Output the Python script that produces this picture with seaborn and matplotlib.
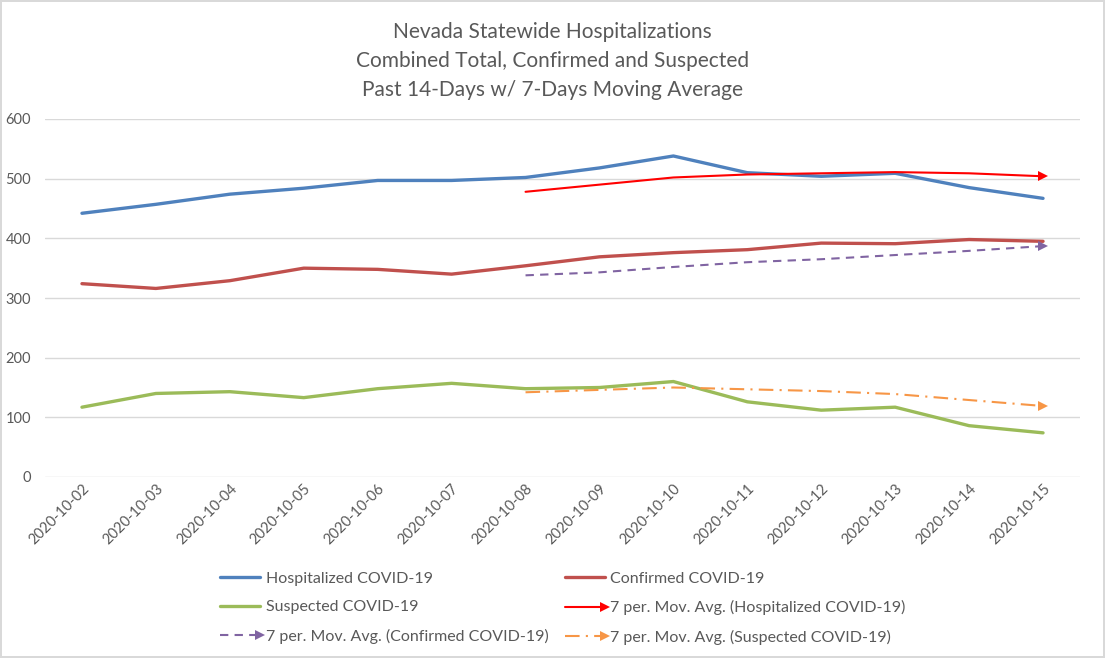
import pandas as pd
import matplotlib.pyplot as plt
import seaborn as sns
from matplotlib.legend_handler import HandlerLine2D

# Datos
fechas = ["2020-10-02", "2020-10-03", "2020-10-04", "2020-10-05", "2020-10-06",
          "2020-10-07", "2020-10-08", "2020-10-09", "2020-10-10", "2020-10-11",
          "2020-10-12", "2020-10-13", "2020-10-14", "2020-10-15"]
hospitalizados = [442, 457, 474, 484, 497, 497, 502, 518, 538, 510, 504, 509, 485, 467]
confirmados = [324, 316, 329, 350, 348, 340, 354, 369, 376, 381, 392, 391, 398, 395]
sospechosos = [117, 140, 143, 133, 148, 157, 148, 150, 160, 126, 112, 117, 86, 74]

fechas_ma = fechas[6:]
ma_hosp = [478, 490, 502, 507, 509, 511, 509, 504]
ma_conf = [338, 343, 352, 360, 365, 372, 379, 387]
ma_sosp = [142, 146, 150, 147, 144, 139, 129, 119]


class FlechaAlFinal(HandlerLine2D):
    # pone el marcador (flecha) al final de la linea en la leyenda
    def create_artists(self, legend, orig_handle, xdescent, ydescent, width,
                       height, fontsize, trans):
        artistas = super().create_artists(legend, orig_handle, xdescent, ydescent,
                                          width, height, fontsize, trans)
        linea = artistas[0]
        linea.set_markevery([len(linea.get_xdata()) - 1])
        return artistas


sns.set_style("white")
plt.rcParams['font.family'] = ['Lato', 'DejaVu Sans']

gris = "#595959"
fig = plt.figure(figsize=(11.05, 6.58), dpi=100, edgecolor="#d9d9d9", linewidth=1.5)
ax = fig.add_axes([45 / 1105, 1 - 477 / 658, 1035 / 1105, 358 / 658])

df = pd.DataFrame({"fecha": fechas, "hosp": hospitalizados,
                   "conf": confirmados, "sosp": sospechosos})
df_ma = pd.DataFrame({"fecha": fechas_ma, "hosp": ma_hosp,
                      "conf": ma_conf, "sosp": ma_sosp})

series = [
    (df, "hosp", "Hospitalized COVID-19", "#4F81BD", "-", 2.4, None),
    (df, "conf", "Confirmed COVID-19", "#C0504D", "-", 2.4, None),
    (df, "sosp", "Suspected COVID-19", "#9BBB59", "-", 2.4, None),
    (df_ma, "hosp", "7 per. Mov. Avg. (Hospitalized COVID-19)", "#FF0000", "-", 1.5, ">"),
    (df_ma, "conf", "7 per. Mov. Avg. (Confirmed COVID-19)", "#8064A2", (0, (4, 3)), 1.5, ">"),
    (df_ma, "sosp", "7 per. Mov. Avg. (Suspected COVID-19)", "#F79646", (0, (7, 3, 1, 3)), 1.5, ">"),
]

handles = {}
flechas = {}
for datos, col, nombre, color, estilo, ancho, marca in series:
    sns.lineplot(data=datos, x="fecha", y=col, ax=ax, color=color, linewidth=ancho,
                 linestyle=estilo, sort=False, label=nombre,
                 marker=marca, markevery=[len(datos) - 1] if marca else None,
                 markersize=7, markeredgewidth=0)
    handles[nombre] = ax.get_lines()[-1]
    if marca:
        flechas[handles[nombre]] = FlechaAlFinal()

ax.get_legend().remove()
ax.set_xlim(-0.5, len(fechas) - 0.5)
ax.set_ylim(0, 600)
ax.set_yticks(range(0, 601, 100))
ax.grid(axis="y", color="#d9d9d9", linewidth=1)
ax.set_axisbelow(True)
for s in ax.spines.values():
    s.set_visible(False)
ax.set_xlabel("")
ax.set_ylabel("")
ax.tick_params(length=0, colors=gris, labelsize=10.5)
ax.tick_params(axis="y", pad=10)
plt.setp(ax.get_xticklabels(), rotation=45, ha="right", rotation_mode="anchor")

fig.suptitle("Nevada Statewide Hospitalizations\nCombined Total, Confirmed and Suspected\nPast 14-Days w/ 7-Days Moving Average",
             y=1 - 22 / 658, va="top", fontsize=15, color=gris, linespacing=1.55)

orden = ["Hospitalized COVID-19", "Suspected COVID-19", "7 per. Mov. Avg. (Confirmed COVID-19)",
         "Confirmed COVID-19", "7 per. Mov. Avg. (Hospitalized COVID-19)",
         "7 per. Mov. Avg. (Suspected COVID-19)"]
fig.legend([handles[n] for n in orden], orden, ncol=2, loc="center",
           bbox_to_anchor=(563 / 1105, 1 - 608 / 658), frameon=False, fontsize=11.5,
           labelcolor=gris, handlelength=2.5, handletextpad=0.35, columnspacing=1.0,
           labelspacing=0.9, numpoints=1, handler_map=flechas)

fig.savefig("out.png", dpi=100)
